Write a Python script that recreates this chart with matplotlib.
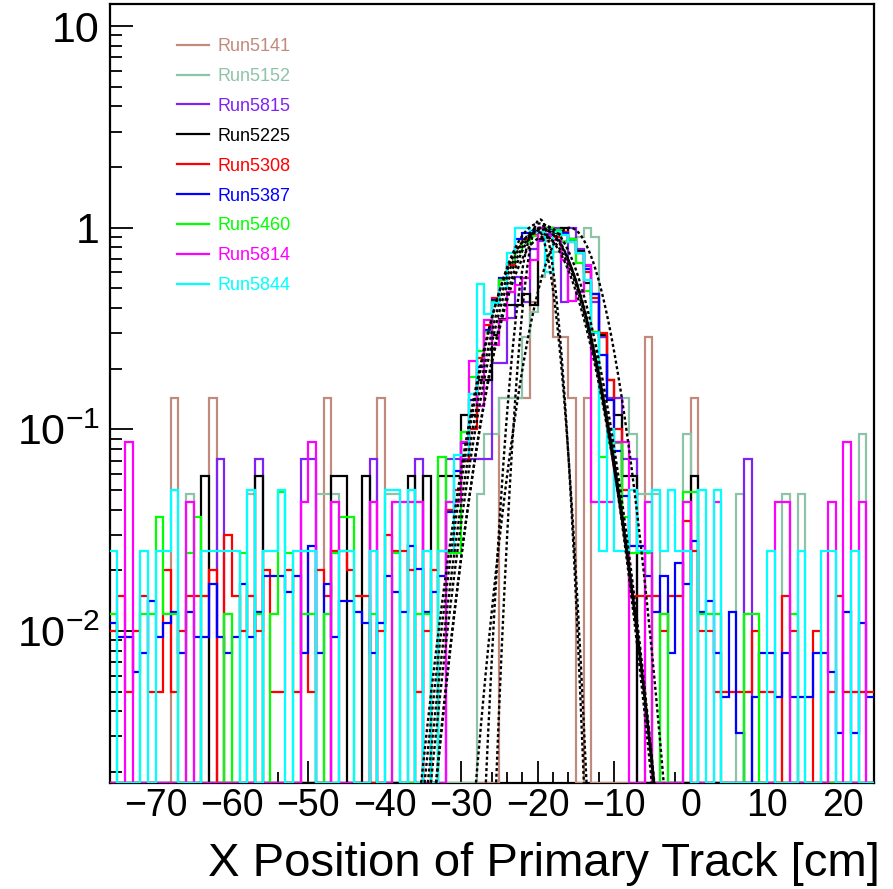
import numpy as np
import matplotlib
matplotlib.use("Agg")
import matplotlib.pyplot as plt
from matplotlib.lines import Line2D
from matplotlib.ticker import FixedLocator, FuncFormatter, MultipleLocator, NullFormatter

plt.rcParams["font.family"] = ["Liberation Sans", "DejaVu Sans"]
plt.rcParams["mathtext.fontset"] = "custom"
plt.rcParams["mathtext.rm"] = "Liberation Sans"
plt.rcParams["mathtext.it"] = "Liberation Sans"
plt.rcParams["mathtext.bf"] = "Liberation Sans"

# ---------------- data ----------------
runs = ["Run5141", "Run5152", "Run5815", "Run5225", "Run5308",
        "Run5387", "Run5460", "Run5814", "Run5844"]
colors = ["#c08a7c", "#8fc3a8", "#7f22f2", "#000000", "#ff0000",
          "#0000ff", "#00ff00", "#ff00ff", "#00ffff"]
x_low, x_high, n_bins = -76.0, 24.0, 100

# raw bin contents (each histogram is normalised to its maximum)
counts_5141 = [0,0,0,0,0,0,0,0,1,0, 0,0,0,1,0,0,0,0,0,0, 0,0,0,0,0,0,0,0,1,0,
               0,0,0,0,0,1,0,0,0,0, 0,0,0,0,0,0,0,0,0,0, 0,1,1,1,1,3,7,6,2,2,
               1,0,1,0,0,0,0,0,0,0, 2,0,0,0,0,0,1,0,0,0, 0,0,0,0,0,0,0,0,0,0,
               0,0,0,0,0,0,0,0,0,0]
counts_5152 = [0,0,0,0,0,0,0,0,0,0, 1,0,0,0,0,0,0,0,1,0, 0,0,0,0,0,0,0,1,1,1,
               0,0,0,0,0,0,1,1,0,0, 0,0,0,0,0,0,0,0,1,2, 2,3,3,3,6,8,12,15,16,18,
               18,19,21,19,6,3,3,3,2,1, 1,1,0,0,0,2,0,0,0,0, 0,0,1,0,0,0,0,0,1,0,
               1,0,0,0,0,0,0,0,2,0]
counts_5815 = [0,0,0,0,0,0,0,0,0,0, 0,0,0,0,1,0,0,0,0,1, 0,0,0,0,0,1,1,0,0,0,
               0,0,0,0,1,0,0,0,0,0, 1,0,0,0,1,1,1,1,1,1, 3,3,5,8,6,11,12,13,14,6,
               14,11,9,6,4,2,2,1,1,0, 0,0,0,0,0,0,0,0,0,0, 0,0,0,1,0,0,0,0,0,0,
               0,0,0,0,0,0,0,0,0,0]
counts_5225 = [0,0,0,0,0,0,0,0,0,0, 0,0,1,0,0,0,0,0,0,1, 0,0,0,0,0,0,0,0,0,1,
               1,0,0,1,0,0,0,0,0,1, 0,1,0,1,1,1,2,2,3,3, 5,6,7,7,8,7,15,17,16,17,
               15,13,9,8,5,3,2,1,1,0, 0,0,0,0,0,0,1,0,0,0, 0,0,0,0,0,0,0,0,0,0,
               0,0,0,0,0,0,0,0,0,0]
counts_5308 = [2,3,1,2,3,1,1,4,1,2, 3,3,3,4,0,6,3,2,3,2, 4,1,1,4,1,5,1,4,3,5,
               5,4,3,3,0,2,6,5,5,4, 1,2,4,5,8,10,14,20,45,66, 90,110,130,160,175,185,190,200,180,190,
               170,150,120,90,60,35,20,10,3,3, 3,3,2,3,3,7,5,2,2,1, 1,1,1,1,2,1,1,0,3,2,
               0,0,2,0,1,3,1,1,1,1]
counts_5387 = [7,6,6,4,5,9,6,7,8,5, 8,6,6,11,6,5,6,11,6,8, 12,12,12,10,12,5,17,5,11,6,
               9,9,8,7,5,7,12,10,8,17, 13,8,10,12,25,40,55,90,130,200, 280,360,430,560,600,620,640,630,610,600,
               560,480,400,300,150,90,50,30,17,17, 12,8,12,5,14,11,18,8,9,5, 3,8,2,0,3,5,5,3,5,3,
               3,3,5,5,4,2,8,2,7,3]
counts_5460 = [1,0,0,0,1,1,3,1,1,0, 2,3,0,0,0,1,0,2,0,1, 0,1,4,2,0,1,1,0,1,2,
               3,3,0,0,1,0,0,2,0,0, 1,1,0,6,2,2,8,15,20,25, 35,45,55,62,70,75,78,82,80,70,
               72,55,40,25,6,7,7,3,2,2, 2,0,1,0,0,4,4,1,1,1, 0,0,0,1,1,0,0,0,0,1,
               0,0,0,0,0,0,0,0,0,0]
counts_5814 = [0,0,2,0,0,0,0,0,0,0, 1,0,0,0,0,0,0,0,0,0, 0,0,0,0,0,1,2,0,0,1,
               0,0,0,0,1,0,0,1,1,1, 1,0,0,0,1,1,2,5,3,8, 6,8,11,12,13,16,23,21,20,16,
               10,11,15,1,1,1,2,2,0,0, 1,0,0,0,0,1,0,0,0,1, 0,0,0,0,0,0,0,1,1,0,
               0,0,0,0,1,0,2,0,1,0]
counts_5844 = [1,0,0,0,1,0,1,1,2,0, 0,0,1,1,1,1,1,0,2,0, 1,1,2,0,1,1,1,0,0,0,
               1,1,0,0,1,0,2,2,0,2, 0,1,0,1,1,3,3,6,21,15, 17,20,30,40,40,38,38,24,38,37,
               34,30,22,12,1,4,1,1,2,1, 1,2,1,2,1,1,0,2,0,2, 0,0,0,0,0,0,1,0,0,0,
               1,0,0,1,1,0,0,1,0,0]
all_counts = [counts_5141, counts_5152, counts_5815, counts_5225, counts_5308,
              counts_5387, counts_5460, counts_5814, counts_5844]

# gaussian fit parameters (amplitude, mean [cm], sigma [cm])
fit_amp = [1.10, 1.00, 1.00, 1.02, 0.98, 1.05, 0.95, 0.90, 1.00]
fit_mean = [-19.7, -20.2, -15.8, -19.0, -19.4, -19.8, -20.0, -19.2, -19.6]
fit_sigma = [1.6, 1.85, 3.45, 4.0, 4.1, 4.2, 4.3, 4.0, 4.15]

y_min, y_max = 0.00177, 12.8

# ---------------- figure ----------------
fig = plt.figure(figsize=(8.93, 8.89), dpi=100)
ax = fig.add_axes([0.12285, 0.11957, 0.85588, 0.87537])

edges = np.linspace(x_low, x_high, n_bins + 1)
for cnt, col in zip(all_counts, colors):
    c = np.asarray(cnt, dtype=float)
    v = c / c.max()
    v[v <= 0] = y_min
    ax.stairs(v, edges, baseline=None, color=col, lw=1.6, zorder=3)

xf = np.linspace(x_low, x_high, 3001)
for a, m, s in zip(fit_amp, fit_mean, fit_sigma):
    yf = a * np.exp(-0.5 * ((xf - m) / s) ** 2)
    yf = np.clip(yf, 1e-6, None)
    ax.plot(xf, yf, color="black", lw=1.7, ls=(0, (1.3, 1.1)), zorder=4)

ax.set_yscale("log")
ax.set_xlim(x_low, x_high)
ax.set_ylim(y_min, y_max)

ax.xaxis.set_major_locator(FixedLocator([-70, -60, -50, -40, -30, -20, -10, 0, 10, 20]))
ax.xaxis.set_minor_locator(MultipleLocator(2))
ax.xaxis.set_major_formatter(FuncFormatter(lambda v, p: f"{int(v)}".replace("-", "\u2212")))

ax.yaxis.set_major_locator(FixedLocator([0.01, 0.1, 1, 10]))
minor = [k * 10.0 ** e for e in range(-3, 2) for k in range(2, 10)]
ax.yaxis.set_minor_locator(FixedLocator(minor))
ax.yaxis.set_minor_formatter(NullFormatter())
ylabels = {10: "10", 1: "1", 0.1: r"$10^{\mathbf{-}1}$", 0.01: r"$10^{\mathbf{-}2}$"}
def yfmt(v, p):
    for k, s in ylabels.items():
        if abs(v - k) < 1e-9 * max(k, 1):
            return s
    return ""
ax.yaxis.set_major_formatter(FuncFormatter(yfmt))

ax.tick_params(axis="x", which="major", direction="in", length=16, width=1.3,
               labelsize=27, pad=4, top=False)
ax.tick_params(axis="x", which="minor", direction="in", length=8, width=1.3, top=False)
ax.tick_params(axis="y", which="major", direction="in", length=16.5, width=1.3,
               labelsize=31, pad=7, right=False)
ax.tick_params(axis="y", which="minor", direction="in", length=8.5, width=1.3, right=False)
for sp in ax.spines.values():
    sp.set_linewidth(1.6)

fig.text(880 / 893, (889 - 876) / 889, "X Position of Primary Track [cm]",
         ha="right", va="baseline", fontsize=34)

handles = [Line2D([], [], color=c, lw=1.6) for c in colors]
ax.legend(handles, runs, loc="upper left", bbox_to_anchor=(0.088, 0.957),
          frameon=False, fontsize=13, handlelength=1.78, handletextpad=0.45,
          labelspacing=0.715, borderaxespad=0, borderpad=0, labelcolor=colors)

fig.savefig("out.png", dpi=100)
